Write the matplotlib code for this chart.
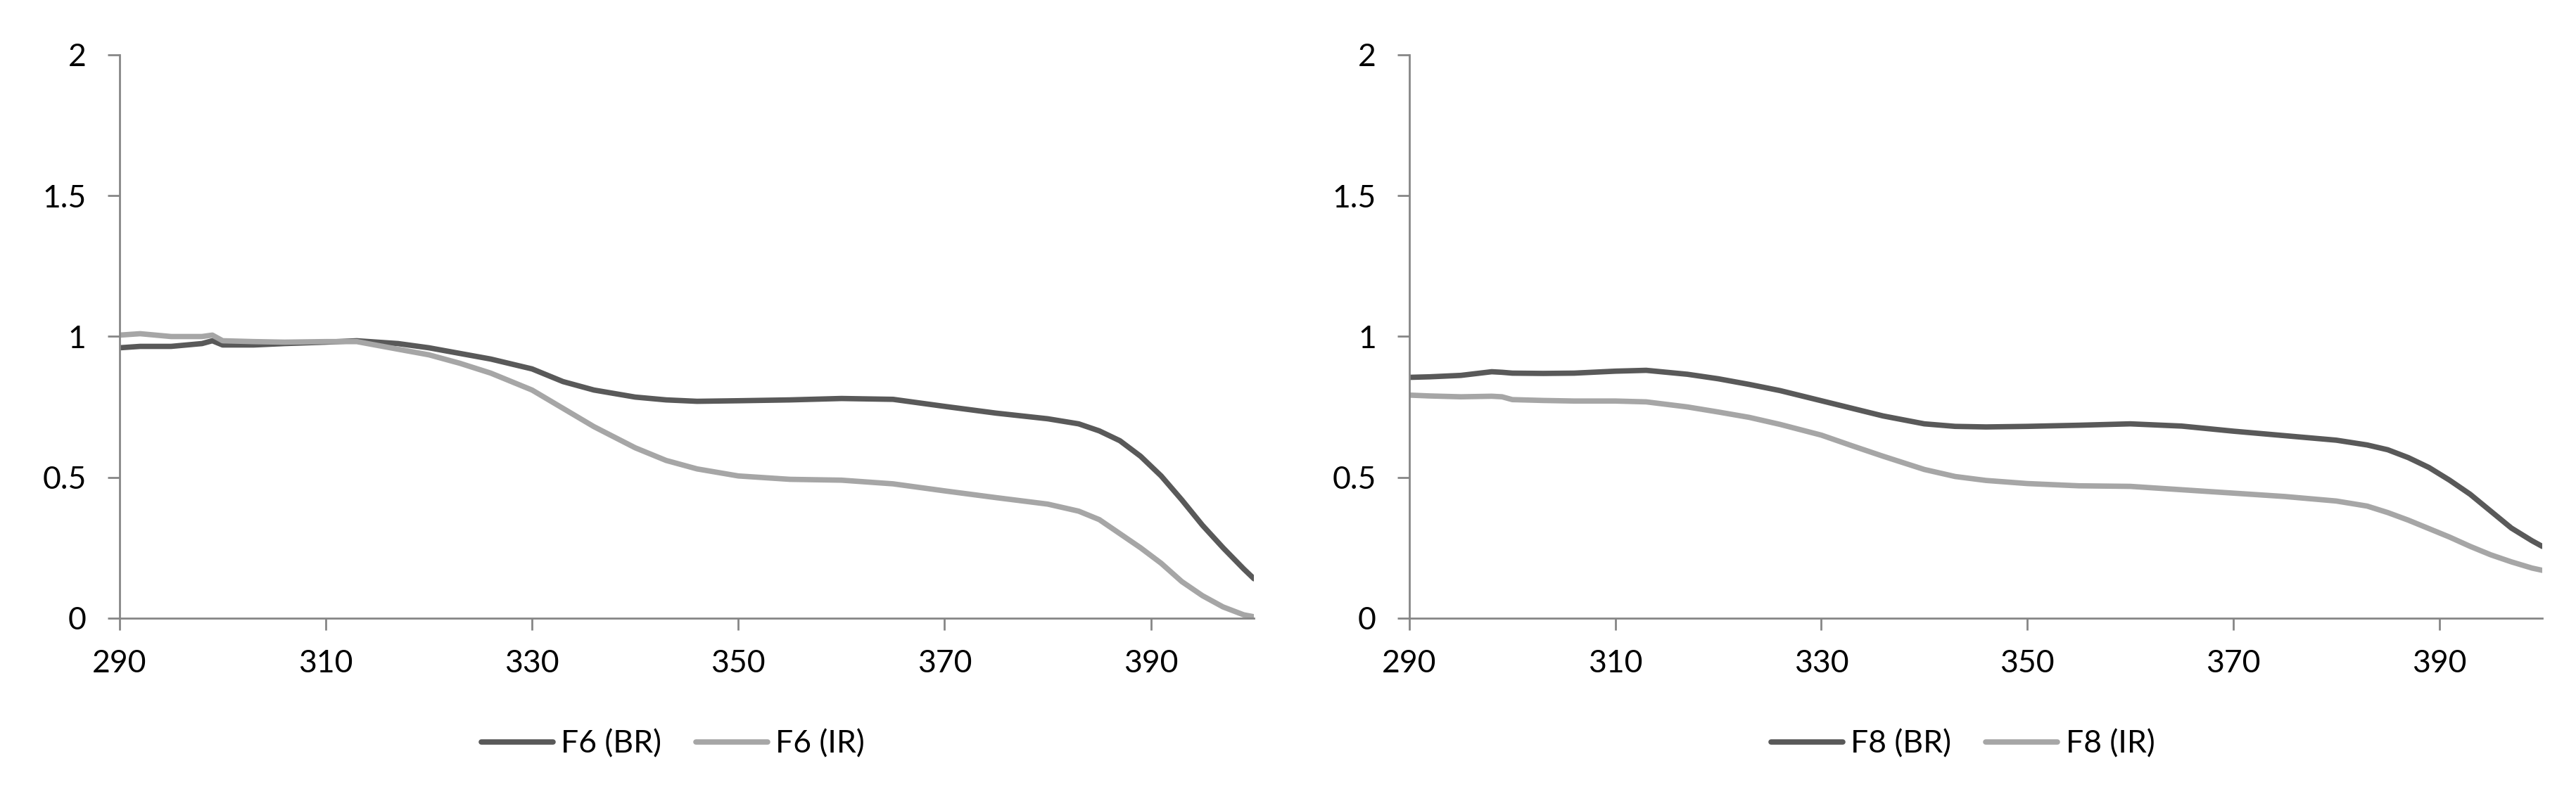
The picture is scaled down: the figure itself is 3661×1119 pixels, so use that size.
import matplotlib
matplotlib.use("Agg")
import matplotlib.pyplot as plt

plt.rcParams['font.family'] = ['Lato', 'DejaVu Sans']

# comprimento de onda (nm)
wavelength = [290, 292, 295, 298, 299, 300, 303, 306, 310, 313, 317, 320, 323, 326,
              330, 333, 336, 340, 343, 346, 350, 355, 360, 365, 370, 375, 380, 383,
              385, 387, 389, 391, 393, 395, 397, 399, 400]

f6_br = [0.96, 0.965, 0.965, 0.975, 0.985, 0.97, 0.97, 0.975, 0.98, 0.985, 0.975, 0.96,
         0.94, 0.92, 0.885, 0.84, 0.81, 0.785, 0.775, 0.77, 0.772, 0.775, 0.78, 0.777,
         0.752, 0.728, 0.708, 0.69, 0.665, 0.63, 0.575, 0.505, 0.42, 0.33, 0.25, 0.175, 0.14]
f6_ir = [1.005, 1.01, 1.0, 1.0, 1.005, 0.985, 0.982, 0.98, 0.982, 0.982, 0.955, 0.935,
         0.905, 0.87, 0.81, 0.745, 0.68, 0.605, 0.56, 0.53, 0.505, 0.493, 0.49, 0.477,
         0.452, 0.428, 0.405, 0.38, 0.35, 0.30, 0.25, 0.195, 0.13, 0.08, 0.04, 0.012, 0.005]

f8_br = [0.855, 0.857, 0.862, 0.875, 0.873, 0.87, 0.869, 0.87, 0.877, 0.88, 0.866, 0.85,
         0.83, 0.808, 0.772, 0.745, 0.718, 0.69, 0.681, 0.679, 0.681, 0.685, 0.69, 0.682,
         0.664, 0.648, 0.632, 0.615, 0.598, 0.57, 0.535, 0.49, 0.44, 0.38, 0.32, 0.275, 0.255]
f8_ir = [0.792, 0.789, 0.786, 0.788, 0.786, 0.776, 0.773, 0.771, 0.771, 0.768, 0.75, 0.732,
         0.713, 0.688, 0.65, 0.612, 0.575, 0.528, 0.503, 0.489, 0.478, 0.47, 0.468, 0.456,
         0.444, 0.432, 0.416, 0.398, 0.375, 0.348, 0.318, 0.288, 0.255, 0.225, 0.2, 0.178, 0.17]

xticks = [290, 310, 330, 350, 370, 390]
yticks = [0, 0.5, 1, 1.5, 2]
ytick_labels = ['0', '0.5', '1', '1.5', '2']

cor_escura = '#595959'
cor_clara = '#a6a6a6'
cor_eixo = '#868686'

fig = plt.figure(figsize=(36.61, 11.19), dpi=100)
ax1 = fig.add_axes([0.0464, 0.2145, 0.4404, 0.7158])
ax2 = fig.add_axes([0.5471, 0.2145, 0.4398, 0.7158])

paineis = [
    (ax1, f6_br, f6_ir, 'F6 (BR)', 'F6 (IR)', 0.2612),
    (ax2, f8_br, f8_ir, 'F8 (BR)', 'F8 (IR)', 0.7620),
]

for ax, br, ir, nome_br, nome_ir, centro in paineis:
    ax.plot(wavelength, br, color=cor_escura, linewidth=5.5, label=nome_br,
            solid_joinstyle='round', solid_capstyle='round')
    ax.plot(wavelength, ir, color=cor_clara, linewidth=5.5, label=nome_ir,
            solid_joinstyle='round', solid_capstyle='round')
    ax.set_xlim(290, 400)
    ax.set_ylim(0, 2)
    ax.set_xticks(xticks)
    ax.set_yticks(yticks)
    ax.set_yticklabels(ytick_labels)
    for lado in ['top', 'right']:
        ax.spines[lado].set_visible(False)
    for lado in ['left', 'bottom']:
        ax.spines[lado].set_color(cor_eixo)
        ax.spines[lado].set_linewidth(2)
    ax.tick_params(axis='both', direction='out', length=12, width=2, color=cor_eixo,
                   labelsize=32, labelcolor='black')
    ax.tick_params(axis='y', pad=22)
    ax.tick_params(axis='x', pad=20)
    fig.legend(handles=ax.get_lines(), loc='center', bbox_to_anchor=(centro, 0.055),
               ncol=2, frameon=False, fontsize=32, handlelength=2.3,
               handletextpad=0.25, columnspacing=1.1)

fig.savefig('out.png', dpi=100, facecolor='white')
